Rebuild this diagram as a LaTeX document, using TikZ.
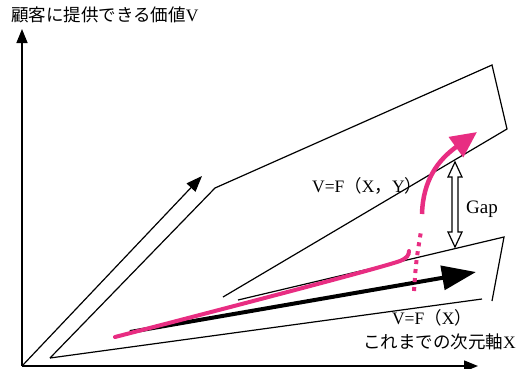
\documentclass[tikz,border=0pt]{standalone}
\usepackage{fontspec}
\setmainfont{Liberation Serif}
\newfontfamily\jp{Noto Sans CJK JP}
\usetikzlibrary{arrows.meta}
\definecolor{vpink}{RGB}{232,45,130}
\tikzset{
  lbl/.style={font=\fontsize{17.5}{19}\selectfont, inner sep=0pt},
  thinline/.style={line width=1.2pt, line join=miter},
}
\begin{document}
\begin{tikzpicture}[x=1pt, y=-1pt]
    \useasboundingbox (0,0) rectangle (524,368);
    \fill[white] (0,0) rectangle (524,368);

    % Axes
    \coordinate (O) at (22,366);
    \coordinate (ytip) at (22,29);
    \coordinate (xtip) at (478,366);
    \draw[line width=1.5pt, -{Triangle[length=14pt,width=11pt]}] (O) -- (ytip);
    \draw[line width=1.5pt, -{Triangle[length=14pt,width=11pt]}] (O) -- (xtip);
    \node[lbl, anchor=west] (ylab) at (11,15) {{\jp 顧客に提供できる価値}V};
    \node[lbl, anchor=east] (xlab) at (516,342) {{\jp これまでの次元軸}X};

    % First arrow from the origin
    \coordinate (a1) at (202,176);
    \draw[thinline, -{Triangle[length=16pt,width=12pt]}] (O) -- (a1);

    % Upper plane V=F(X,Y)
    \coordinate (pa) at (50,358);
    \coordinate (pb) at (215,188);
    \coordinate (pc) at (492,65);
    \coordinate (pd) at (507,129);
    \coordinate (pe) at (223,297);
    \draw[thinline] (pa) -- (pb) -- (pc) -- (pd) -- (pe);
    \node[lbl, anchor=west] (vfxy) at (312,186) {V=F{\jp （}X{\jp ，}Y{\jp ）}};

    % Lower plane V=F(X)
    \coordinate (qf) at (238,300);
    \coordinate (qg) at (504,237);
    \coordinate (qh) at (492,301);
    \coordinate (qi) at (482,299);
    \draw[thinline] (qf) -- (qg) -- (qh);
    \draw[thinline] (pa) -- (qi);
    \node[lbl] (vfx) at (432,318) {V=F{\jp （}X{\jp ）}};

    % Thick black arrow
    \coordinate (b0) at (130,332);
    \coordinate (b1) at (476,272);
    \draw[line width=4pt, -{Triangle[length=34pt,width=24pt]}] (b0) -- (b1);

    % Pink path with jump
    \coordinate (p0) at (115,337);
    \coordinate (p1) at (409,251);
    \draw[vpink, line width=4pt, line cap=round]
        (p0) .. controls (250,302) and (380,268) .. (400,261)
             .. controls (407,258) and (409,255) .. (p1);
    \coordinate (d0) at (414,291);
    \coordinate (d1) at (421,231);
    \draw[vpink, line width=4pt, dash pattern=on 4pt off 5pt]
        (d0) .. controls (416,262) .. (d1);
    \coordinate (j0) at (422,214);
    \coordinate (j1) at (477,132);
    \draw[vpink, line width=4.5pt, -{Triangle[length=26pt,width=24pt]}]
        (j0) .. controls (423,180) and (438,160) .. (j1);

    % Gap arrow
    \draw[thinline, fill=white] (455,162) -- (462,177) -- (458,177) -- (458,232)
        -- (462,232) -- (455,247) -- (448,232) -- (452,232) -- (452,177)
        -- (448,177) -- cycle;
    \node[lbl, anchor=west, font=\fontsize{19}{21}\selectfont] (gap) at (466,209) {Gap};
\end{tikzpicture}
\end{document}
